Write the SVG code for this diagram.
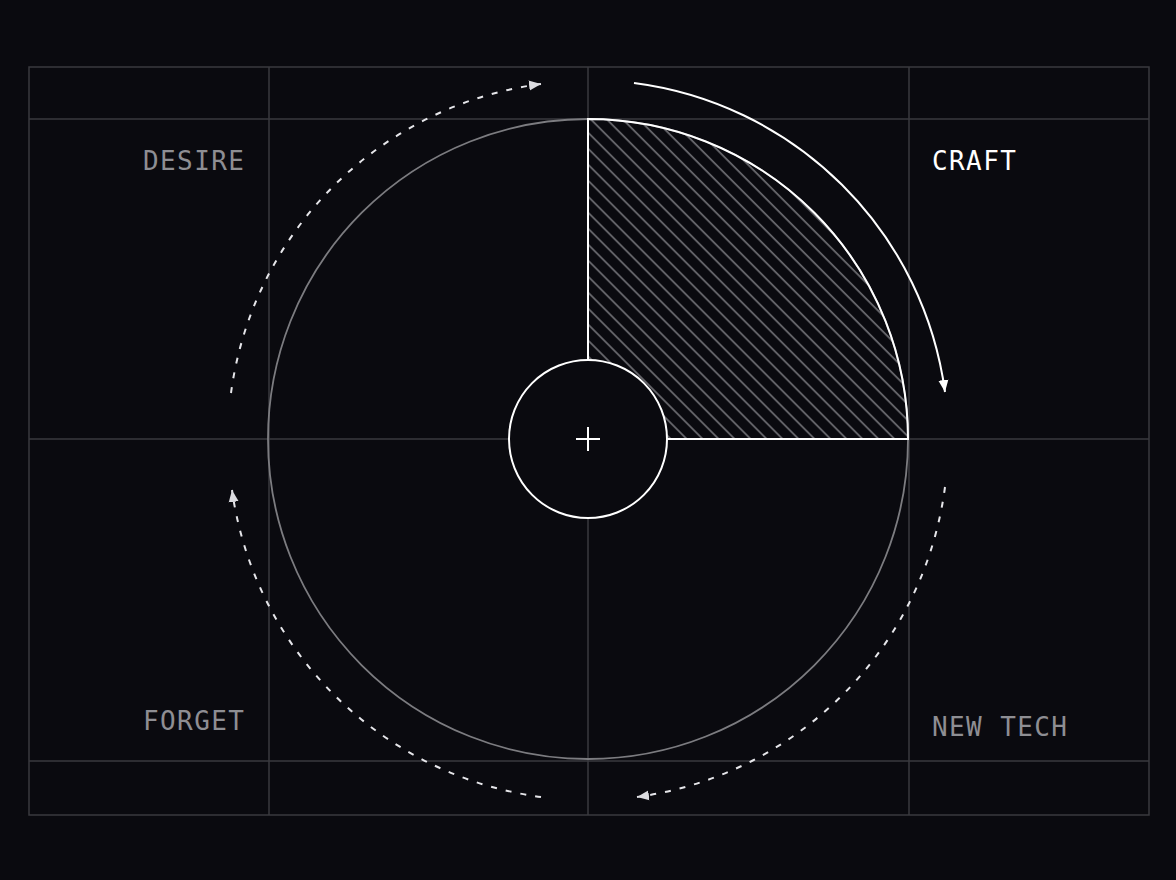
<svg xmlns="http://www.w3.org/2000/svg" width="1176" height="880" viewBox="0 0 1176 880">
<style>
.grid{stroke:#3a3a3f;stroke-width:1.5;fill:none}
.lbl{font-family:"DejaVu Sans Mono","Liberation Mono",monospace;font-size:26px;letter-spacing:1.4px}
.dim{fill:#8e8e93}
.dash{fill:none;stroke:#e6e6ea;stroke-width:2;stroke-dasharray:6 9}
</style>
<defs>
<pattern id="hatch" patternUnits="userSpaceOnUse" width="11.3" height="11.3" patternTransform="rotate(45)">
<line x1="0" y1="5.6" x2="11.3" y2="5.6" stroke="#77777c" stroke-width="1.5"/>
</pattern>
<clipPath id="pie"><path d="M588 439 L588 119 A320 320 0 0 1 908 439 Z"/></clipPath>
<marker id="arrW" markerUnits="userSpaceOnUse" markerWidth="14" markerHeight="12" refX="12" refY="5" orient="auto" viewBox="0 0 14 10">
<path d="M0 0 L12 5 L0 10 Z" fill="#ffffff"/>
</marker>
<marker id="arrG" markerUnits="userSpaceOnUse" markerWidth="14" markerHeight="12" refX="12" refY="5" orient="auto" viewBox="0 0 14 10">
<path d="M0 0 L12 5 L0 10 Z" fill="#dcdce0"/>
</marker>
</defs>
<rect width="1176" height="880" fill="#0a0a0f"/>
<g id="grid">
<rect class="grid" x="29" y="67" width="1120" height="748"/>
<line class="grid" x1="269" y1="67" x2="269" y2="815"/>
<line class="grid" x1="588" y1="67" x2="588" y2="815"/>
<line class="grid" x1="909" y1="67" x2="909" y2="815"/>
<line class="grid" x1="29" y1="119" x2="1149" y2="119"/>
<line class="grid" x1="29" y1="439" x2="1149" y2="439"/>
<line class="grid" x1="29" y1="761" x2="1149" y2="761"/>
</g>
<g id="ring">
<circle cx="588" cy="439" r="320" fill="none" stroke="#7c7c80" stroke-width="1.8"/>
</g>
<g id="craft-sector">
<rect x="588" y="119" width="320" height="320" fill="url(#hatch)" clip-path="url(#pie)"/>
<path d="M588 360 L588 119 A320 320 0 0 1 908 439 L667 439" fill="none" stroke="#ffffff" stroke-width="2"/>
</g>
<g id="core">
<circle cx="588" cy="439" r="79" fill="#0a0a0f" stroke="#ffffff" stroke-width="2"/>
<line x1="576" y1="439" x2="600" y2="439" stroke="#ffffff" stroke-width="2"/>
<line x1="588" y1="427" x2="588" y2="451" stroke="#ffffff" stroke-width="2"/>
</g>
<g id="connectors">
<path d="M634 83 A360 360 0 0 1 945 392" fill="none" stroke="#ffffff" stroke-width="2" marker-end="url(#arrW)"/>
<path class="dash" d="M945 487 A360 360 0 0 1 637 797" marker-end="url(#arrG)"/>
<path class="dash" d="M541 797 A360 360 0 0 1 232 490" marker-end="url(#arrG)"/>
<path class="dash" d="M231 393 A360 360 0 0 1 541 84" marker-end="url(#arrG)"/>
</g>
<g id="desire"><text class="lbl dim" x="143" y="170">DESIRE</text></g>
<g id="craft"><text class="lbl" x="932" y="170" fill="#ffffff">CRAFT</text></g>
<g id="forget"><text class="lbl dim" x="143" y="730">FORGET</text></g>
<g id="newtech"><text class="lbl dim" x="932" y="736">NEW TECH</text></g>
</svg>
